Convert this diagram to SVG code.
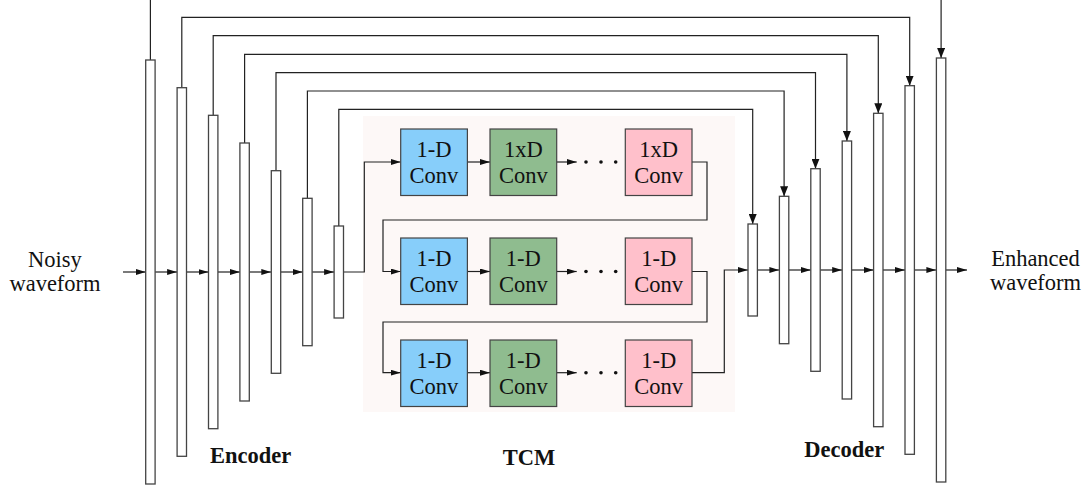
<svg xmlns="http://www.w3.org/2000/svg" width="1087" height="488" viewBox="0 0 1087 488">
<style>
.bar{fill:#fff;stroke:#444;stroke-width:1.3}
.ln{fill:none;stroke:#222;stroke-width:1.2}
.box{stroke:#444;stroke-width:1.2}
.blue{fill:#87CEFA}.green{fill:#8FBC8F}.pink{fill:#FFC0CB}
.t{font-family:"Liberation Serif","Times New Roman",serif;font-size:22.5px;fill:#111;text-anchor:middle}
.b{font-family:"Liberation Serif","Times New Roman",serif;font-size:22.5px;font-weight:bold;fill:#111}
</style>
<defs>
<marker id="ah" markerUnits="userSpaceOnUse" markerWidth="10" markerHeight="6" refX="10" refY="3" orient="auto"><path d="M0,0 L10,3 L0,6 z" fill="#111"/></marker>
<marker id="av" markerUnits="userSpaceOnUse" markerWidth="10" markerHeight="8" refX="10" refY="4" orient="auto"><path d="M0,0 L10,4 L0,8 z" fill="#111"/></marker>
</defs>
<rect x="363" y="116" width="372" height="296" fill="#fdf8f7"/>
<g id="connectors">
<!-- skip connections -->
<path class="ln" d="M150.4,60 V-2 M941.1,-2 V58" marker-end="url(#av)"/>
<path class="ln" d="M181.8,87.7 V17.3 H909.7 V85.7" marker-end="url(#av)"/>
<path class="ln" d="M213.2,115.3 V35.7 H878.3 V113.3" marker-end="url(#av)"/>
<path class="ln" d="M244.6,143 V54.3 H846.9 V141" marker-end="url(#av)"/>
<path class="ln" d="M276,170.7 V72.7 H815.5 V168.7" marker-end="url(#av)"/>
<path class="ln" d="M307.4,198.3 V91 H784.1 V196.3" marker-end="url(#av)"/>
<path class="ln" d="M338.8,226 V109.3 H752.7 V224" marker-end="url(#av)"/>
<!-- encoder flow -->
<path class="ln" d="M123,272 H145.7" marker-end="url(#ah)"/>
<path class="ln" d="M155.1,272 H177.1" marker-end="url(#ah)"/>
<path class="ln" d="M186.5,272 H208.5" marker-end="url(#ah)"/>
<path class="ln" d="M217.9,272 H239.9" marker-end="url(#ah)"/>
<path class="ln" d="M249.3,272 H271.3" marker-end="url(#ah)"/>
<path class="ln" d="M280.7,272 H302.7" marker-end="url(#ah)"/>
<path class="ln" d="M312.1,272 H334.1" marker-end="url(#ah)"/>
<path class="ln" d="M343.5,272 H364.3 V162 H400.7" marker-end="url(#ah)"/>
<!-- TCM rows -->
<path class="ln" d="M467.4,162 H490" marker-end="url(#ah)"/>
<path class="ln" d="M556.7,162 H576.7" marker-end="url(#ah)"/>
<path class="ln" d="M692,162 H707 V220 H383 V271.5 H400.7" marker-end="url(#ah)"/>
<path class="ln" d="M467.4,271.5 H490" marker-end="url(#ah)"/>
<path class="ln" d="M556.7,271.5 H576.7" marker-end="url(#ah)"/>
<path class="ln" d="M692,271.5 H707 V322 H383 V372.7 H400.7" marker-end="url(#ah)"/>
<path class="ln" d="M467.4,372.7 H490" marker-end="url(#ah)"/>
<path class="ln" d="M556.7,372.7 H576.7" marker-end="url(#ah)"/>
<path class="ln" d="M692,372.7 H724.3 V270 H748" marker-end="url(#ah)"/>
<!-- decoder flow -->
<path class="ln" d="M757.4,270 H779.4" marker-end="url(#ah)"/>
<path class="ln" d="M788.8,270 H810.8" marker-end="url(#ah)"/>
<path class="ln" d="M820.2,270 H842.2" marker-end="url(#ah)"/>
<path class="ln" d="M851.6,270 H873.6" marker-end="url(#ah)"/>
<path class="ln" d="M883,270 H905" marker-end="url(#ah)"/>
<path class="ln" d="M914.4,270 H936.4" marker-end="url(#ah)"/>
<path class="ln" d="M945.8,270 H967" marker-end="url(#ah)"/>
<g fill="#111">
<circle cx="586" cy="162" r="1.8"/><circle cx="601" cy="162" r="1.8"/><circle cx="615.7" cy="162" r="1.8"/>
<circle cx="586" cy="271.5" r="1.8"/><circle cx="601" cy="271.5" r="1.8"/><circle cx="615.7" cy="271.5" r="1.8"/>
<circle cx="586" cy="372.7" r="1.8"/><circle cx="601" cy="372.7" r="1.8"/><circle cx="615.7" cy="372.7" r="1.8"/>
</g>
</g>
<g id="encoder">
<rect class="bar" x="145.7" y="60" width="9.4" height="424"/>
<rect class="bar" x="177.1" y="87.7" width="9.4" height="368.6"/>
<rect class="bar" x="208.5" y="115.3" width="9.4" height="313.4"/>
<rect class="bar" x="239.9" y="143" width="9.4" height="258"/>
<rect class="bar" x="271.3" y="170.7" width="9.4" height="202.6"/>
<rect class="bar" x="302.7" y="198.3" width="9.4" height="147.4"/>
<rect class="bar" x="334.1" y="226" width="9.4" height="92"/>
<text class="b" x="210" y="463.3">Encoder</text>
</g>
<g id="decoder">
<rect class="bar" x="748" y="224" width="9.4" height="92"/>
<rect class="bar" x="779.4" y="196.3" width="9.4" height="147.4"/>
<rect class="bar" x="810.8" y="168.7" width="9.4" height="202.6"/>
<rect class="bar" x="842.2" y="141" width="9.4" height="258"/>
<rect class="bar" x="873.6" y="113.3" width="9.4" height="313.4"/>
<rect class="bar" x="905" y="85.7" width="9.4" height="368.6"/>
<rect class="bar" x="936.4" y="58" width="9.4" height="424"/>
<text class="b" x="804.3" y="456.7">Decoder</text>
</g>
<g id="tcm">
<g id="r1b1"><rect class="box blue" x="400.7" y="129" width="66.7" height="66.5"/><text class="t" x="434" y="156.7">1-D</text><text class="t" x="434" y="183.3">Conv</text></g>
<g id="r1b2"><rect class="box green" x="490" y="129" width="66.7" height="66.5"/><text class="t" x="523.3" y="156.7">1xD</text><text class="t" x="523.3" y="183.3">Conv</text></g>
<g id="r1b3"><rect class="box pink" x="625.3" y="129" width="66.7" height="66.5"/><text class="t" x="658.7" y="156.7">1xD</text><text class="t" x="658.7" y="183.3">Conv</text></g>
<g id="r2b1"><rect class="box blue" x="400.7" y="238" width="66.7" height="66.5"/><text class="t" x="434" y="265.7">1-D</text><text class="t" x="434" y="292.3">Conv</text></g>
<g id="r2b2"><rect class="box green" x="490" y="238" width="66.7" height="66.5"/><text class="t" x="523.3" y="265.7">1-D</text><text class="t" x="523.3" y="292.3">Conv</text></g>
<g id="r2b3"><rect class="box pink" x="625.3" y="238" width="66.7" height="66.5"/><text class="t" x="658.7" y="265.7">1-D</text><text class="t" x="658.7" y="292.3">Conv</text></g>
<g id="r3b1"><rect class="box blue" x="400.7" y="340" width="66.7" height="66.5"/><text class="t" x="434" y="367.7">1-D</text><text class="t" x="434" y="394.3">Conv</text></g>
<g id="r3b2"><rect class="box green" x="490" y="340" width="66.7" height="66.5"/><text class="t" x="523.3" y="367.7">1-D</text><text class="t" x="523.3" y="394.3">Conv</text></g>
<g id="r3b3"><rect class="box pink" x="625.3" y="340" width="66.7" height="66.5"/><text class="t" x="658.7" y="367.7">1-D</text><text class="t" x="658.7" y="394.3">Conv</text></g>
<text class="b" x="529" y="465" text-anchor="middle">TCM</text>
</g>
<g id="input"><text class="t" x="55" y="267.3">Noisy</text><text class="t" x="55" y="290.7">waveform</text></g>
<g id="output"><text class="t" x="1035.5" y="265.7">Enhanced</text><text class="t" x="1035.5" y="290">waveform</text></g>
</svg>
